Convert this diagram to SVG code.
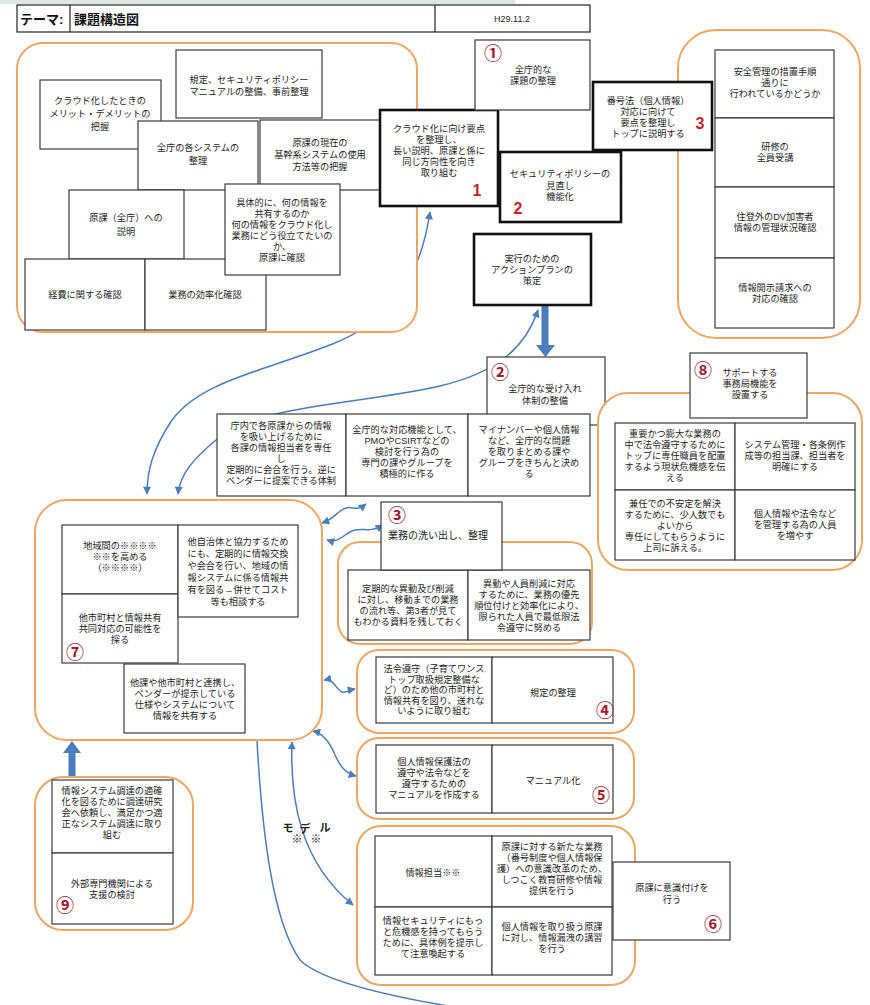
<svg xmlns="http://www.w3.org/2000/svg" width="870" height="1005" viewBox="0 0 870 1005">
  <style>
    .grp { fill: #fff; stroke: #eea664; stroke-width: 2; }
    .bx { fill: #fff; stroke: #3a3a3a; stroke-width: 1.2; }
    .bk { fill: #fff; stroke: #111; stroke-width: 2.6; }
    .t { font-family: "Liberation Sans", "Noto Sans CJK JP", sans-serif; font-size: 9.2px; fill: #1c1c1c; text-anchor: middle; }
    .tl { font-family: "Liberation Sans", "Noto Sans CJK JP", sans-serif; font-size: 10px; fill: #1c1c1c; }
    .num { font-family: "Liberation Sans", "Noto Sans CJK JP", sans-serif; font-size: 18px; font-weight: bold; fill: #9e1b2e; text-anchor: middle; }
    .red { font-family: "Liberation Sans", Arial, sans-serif; font-size: 16px; font-weight: bold; fill: #c41f2f; text-anchor: middle; }
    .hd { font-family: "Liberation Sans", "Noto Sans CJK JP", sans-serif; font-size: 13px; font-weight: bold; fill: #111; }
    .cn { fill: none; stroke: #4a7dbb; stroke-width: 1.5; }
    .fat { fill: #4a7dbb; stroke: none; }
    .md { font-family: "Liberation Sans", "Noto Sans CJK JP", sans-serif; font-size: 11px; font-weight: bold; fill: #222; text-anchor: middle; }
  </style>
  <defs>
    <marker id="ah" viewBox="0 0 10 10" refX="9" refY="5" markerWidth="9" markerHeight="8" markerUnits="userSpaceOnUse" orient="auto-start-reverse">
      <path d="M0,0 L10,5 L0,10 z" fill="#4a7dbb"/>
    </marker>
  </defs>

  <rect x="0" y="0" width="870" height="1005" fill="#fff"/>
  <rect x="0" y="0" width="515" height="4" fill="#dfe5e2"/>

  <!-- title bar -->
  <g id="header">
    <rect x="17" y="5" width="573" height="27" fill="#fff" stroke="#222" stroke-width="1.2"/>
    <line x1="70" y1="5" x2="70" y2="32" stroke="#222" stroke-width="1.2"/>
    <line x1="435" y1="5" x2="435" y2="32" stroke="#222" stroke-width="1.2"/>
    <text class="hd" x="20" y="24">テーマ:</text>
    <text class="hd" x="74" y="24">課題構造図</text>
    <text x="512" y="22" font-family="Liberation Sans, Arial, sans-serif" font-size="9" fill="#222" text-anchor="middle">H29.11.2</text>
  </g>

  <!-- connectors -->
  <g id="connectors">
    <path class="cn" d="M430,212 C420,280 390,322 330,345 C260,372 200,382 172,420 C152,450 147,472 147,494" marker-start="url(#ah)" marker-end="url(#ah)"/>
    <path class="cn" d="M538,310 C525,348 498,372 440,386 C350,406 262,404 216,440 C192,460 180,475 178,494" marker-start="url(#ah)" marker-end="url(#ah)"/>
    <path class="cn" d="M322,523 C336,518 338,510 346,508 C354,506 356,512 366,504" marker-start="url(#ah)" marker-end="url(#ah)"/>
    <path class="cn" d="M327,540 C340,544 345,532 355,530 C365,528 370,533 383,525" marker-start="url(#ah)" marker-end="url(#ah)"/>
    <path class="cn" d="M324,680 C334,678 336,690 342,692 C346,693 350,690 355,689" marker-start="url(#ah)" marker-end="url(#ah)"/>
    <path class="cn" d="M313,731 C325,734 331,745 335,755 C340,766 345,773 356,776" marker-start="url(#ah)" marker-end="url(#ah)"/>
    <path class="cn" d="M292,742 C290,800 300,862 353,905" marker-start="url(#ah)" marker-end="url(#ah)"/>
    <path class="cn" d="M257,741 C262,830 272,920 300,960 C320,980 380,995 460,1008"/>
    <!-- heavy arrows -->
    <rect class="fat" x="541.5" y="305" width="7" height="42"/>
    <polygon class="fat" points="536,345 555,345 545.5,357"/>
    <rect class="fat" x="68.5" y="752" width="7" height="25"/>
    <polygon class="fat" points="63,753 81,753 72,741"/>
  </g>

  <!-- upper-left cluster -->
  <g id="cluster-prep">
    <rect class="grp" x="17" y="43" width="400" height="289" rx="26"/>
  </g>
  <g id="n-merit">
    <rect class="bx" x="40" y="80" width="121" height="69"/>
    <text class="t" x="100" y="104">クラウド化したときの<tspan x="100" dy="13">メリット・デメリットの</tspan><tspan x="100" dy="13">把握</tspan></text>
  </g>
  <g id="n-kitei">
    <rect class="bx" x="176" y="50" width="146" height="68"/>
    <text class="t" x="249" y="83">規定、セキュリティポリシー<tspan x="249" dy="11.5">マニュアルの整備、事前整理</tspan></text>
  </g>
  <g id="n-zencho-system">
    <rect class="bx" x="138" y="121" width="120" height="69"/>
    <text class="t" x="198" y="151">全庁の各システムの<tspan x="198" dy="13">整理</tspan></text>
  </g>
  <g id="n-genka-system">
    <rect class="bx" x="260" y="120" width="120" height="70"/>
    <text class="t" x="320" y="146">原課の現在の<tspan x="320" dy="12">基幹系システムの使用</tspan><tspan x="320" dy="12">方法等の把握</tspan></text>
  </g>
  <g id="n-setsumei">
    <rect class="bx" x="69" y="190" width="115" height="69"/>
    <text class="t" x="126" y="221">原課（全庁）への<tspan x="126" dy="14">説明</tspan></text>
  </g>
  <g id="n-keihi">
    <rect class="bx" x="25" y="259" width="120" height="71"/>
    <text class="t" x="85" y="298">経費に関する確認</text>
  </g>
  <g id="n-kouritsu">
    <rect class="bx" x="145" y="259" width="121" height="71"/>
    <text class="t" x="205" y="298">業務の効率化確認</text>
  </g>
  <g id="n-gutai">
    <rect class="bx" x="225" y="184" width="115" height="91"/>
    <text class="t" x="282" y="205.5">具体的に、何の情報を<tspan x="282" dy="11">共有するのか</tspan><tspan x="282" dy="11">何の情報をクラウド化し</tspan><tspan x="282" dy="11">業務にどう役立てたいの</tspan><tspan x="282" dy="11">か、</tspan><tspan x="282" dy="11">原課に確認</tspan></text>
  </g>

  <!-- right-hand checks -->
  <g id="cluster-checks">
    <rect class="grp" x="678" y="30" width="182" height="308" rx="38"/>
    <rect class="bx" x="715" y="50" width="119" height="68"/>
    <text class="t" x="775" y="74.5">安全管理の措置手順<tspan x="775" dy="11">通りに</tspan><tspan x="775" dy="11">行われているかどうか</tspan></text>
    <rect class="bx" x="715" y="118" width="119" height="69"/>
    <text class="t" x="775" y="150">研修の<tspan x="775" dy="11">全員受講</tspan></text>
    <rect class="bx" x="715" y="187" width="119" height="71"/>
    <text class="t" x="775" y="220">住登外のDV加害者<tspan x="775" dy="11">情報の管理状況確認</tspan></text>
    <rect class="bx" x="715" y="258" width="119" height="70"/>
    <text class="t" x="775" y="291">情報開示請求への<tspan x="775" dy="11">対応の確認</tspan></text>
  </g>

  <!-- priority tasks -->
  <g id="n-task1">
    <rect class="bk" x="380" y="110" width="118" height="96"/>
    <text class="t" x="439" y="132">クラウド化に向け要点<tspan x="439" dy="11">を整理し、</tspan><tspan x="439" dy="11">長い説明、原課と係に</tspan><tspan x="439" dy="11">同じ方向性を向き</tspan><tspan x="439" dy="11">取り組む</tspan></text>
    <text class="red" x="477" y="196">1</text>
  </g>
  <g id="n-issue1">
    <rect class="bx" x="475" y="40" width="115" height="70"/>
    <text class="num" x="493" y="60">①</text>
    <text class="t" x="533" y="73">全庁的な<tspan x="533" dy="11">課題の整理</tspan></text>
  </g>
  <g id="n-task2">
    <rect class="bk" x="500" y="152" width="121" height="70"/>
    <text class="t" x="560" y="177">セキュリティポリシーの<tspan x="560" dy="11.5">見直し</tspan><tspan x="560" dy="11.5">機能化</tspan></text>
    <text class="red" x="518" y="214">2</text>
  </g>
  <g id="n-task3">
    <rect class="bk" x="593" y="82" width="119" height="68"/>
    <text class="t" x="648" y="104">番号法（個人情報）<tspan x="648" dy="11">対応に向けて</tspan><tspan x="648" dy="11">要点を整理し</tspan><tspan x="648" dy="11">トップに説明する</tspan></text>
    <text class="red" x="700" y="129">3</text>
  </g>
  <g id="n-actionplan">
    <rect class="bk" x="474" y="234" width="117" height="71"/>
    <text class="t" x="532" y="262">実行のための<tspan x="532" dy="11">アクションプランの</tspan><tspan x="532" dy="11">策定</tspan></text>
  </g>

  <!-- acceptance structure -->
  <g id="n-issue2">
    <rect class="bx" x="487" y="357" width="118" height="68"/>
    <text class="num" x="500" y="379">②</text>
    <text class="t" x="545" y="392">全庁的な受け入れ<tspan x="545" dy="12">体制の整備</tspan></text>
  </g>
  <g id="n-renraku">
    <rect class="bx" x="217" y="414" width="129" height="82"/>
    <text class="t" x="281" y="429">庁内で各原課からの情報<tspan x="281" dy="11">を吸い上げるために</tspan><tspan x="281" dy="11">各課の情報担当者を専任</tspan><tspan x="281" dy="11">し</tspan><tspan x="281" dy="11">定期的に会合を行う。逆に</tspan><tspan x="281" dy="11">ベンダーに提案できる体制</tspan></text>
  </g>
  <g id="n-pmo">
    <rect class="bx" x="346" y="414" width="122" height="82"/>
    <text class="t" x="407" y="433">全庁的な対応機能として、<tspan x="407" dy="11">PMOやCSIRTなどの</tspan><tspan x="407" dy="11">検討を行う為の</tspan><tspan x="407" dy="11">専門の課やグループを</tspan><tspan x="407" dy="11">積極的に作る</tspan></text>
  </g>
  <g id="n-mynumber">
    <rect class="bx" x="468" y="414" width="122" height="82"/>
    <text class="t" x="529" y="433">マイナンバーや個人情報<tspan x="529" dy="11">など、全庁的な問題</tspan><tspan x="529" dy="11">を取りまとめる課や</tspan><tspan x="529" dy="11">グループをきちんと決め</tspan><tspan x="529" dy="11">る</tspan></text>
  </g>

  <!-- secretariat -->
  <g id="cluster-support">
    <rect class="grp" x="598" y="393" width="264" height="177" rx="30"/>
    <rect class="bx" x="615" y="423" width="120" height="67"/>
    <text class="t" x="675" y="437">重要かつ膨大な業務の<tspan x="675" dy="11">中で法令遵守するために</tspan><tspan x="675" dy="11">トップに専任職員を配置</tspan><tspan x="675" dy="11">するよう現状危機感を伝</tspan><tspan x="675" dy="11">える</tspan></text>
    <rect class="bx" x="735" y="423" width="120" height="67"/>
    <text class="t" x="795" y="448">システム管理・各条例作<tspan x="795" dy="11">成等の担当課、担当者を</tspan><tspan x="795" dy="11">明確にする</tspan></text>
    <rect class="bx" x="615" y="490" width="120" height="70"/>
    <text class="t" x="675" y="506.5">兼任での不安定を解決<tspan x="675" dy="11">するために、少人数でも</tspan><tspan x="675" dy="11">よいから</tspan><tspan x="675" dy="11">専任にしてもらうように</tspan><tspan x="675" dy="11">上司に訴える。</tspan></text>
    <rect class="bx" x="735" y="490" width="120" height="70"/>
    <text class="t" x="795" y="517">個人情報や法令など<tspan x="795" dy="11">を管理する為の人員</tspan><tspan x="795" dy="11">を増やす</tspan></text>
  </g>
  <g id="n-issue8">
    <rect class="bx" x="690" y="353" width="117" height="65"/>
    <text class="num" x="703" y="377">⑧</text>
    <text class="t" x="750" y="376">サポートする<tspan x="750" dy="11">事務局機能を</tspan><tspan x="750" dy="11">設置する</tspan></text>
  </g>

  <!-- regional cooperation -->
  <g id="cluster-regional">
    <rect class="grp" x="35" y="500" width="287" height="240" rx="32"/>
  </g>
  <g id="n-chiiki">
    <rect class="bx" x="62" y="525" width="116" height="69"/>
    <text class="t" x="120" y="548.5">地域間の※※※※<tspan x="120" dy="11">※※を高める</tspan><tspan x="120" dy="11">（※※※※）</tspan></text>
  </g>
  <g id="n-issue7">
    <rect class="bx" x="62" y="594" width="116" height="69"/>
    <text class="t" x="120" y="620.5">他市町村と情報共有<tspan x="120" dy="11">共同対応の可能性を</tspan><tspan x="120" dy="11">探る</tspan></text>
    <text class="num" x="75" y="659">⑦</text>
  </g>
  <g id="n-jichitai">
    <rect class="bx" x="178" y="525" width="120" height="92"/>
    <text class="t" x="238" y="544.5">他自治体と協力するため<tspan x="238" dy="12">にも、定期的に情報交換</tspan><tspan x="238" dy="12">や会合を行い、地域の情</tspan><tspan x="238" dy="12">報システムに係る情報共</tspan><tspan x="238" dy="12">有を図る→併せてコスト</tspan><tspan x="238" dy="12">等も相談する</tspan></text>
  </g>
  <g id="n-vendor">
    <rect class="bx" x="124" y="664" width="121" height="69"/>
    <text class="t" x="185" y="685.5">他課や他市町村と連携し、<tspan x="185" dy="11">ベンダーが提示している</tspan><tspan x="185" dy="11">仕様やシステムについて</tspan><tspan x="185" dy="11">情報を共有する</tspan></text>
  </g>

  <!-- business review -->
  <g id="cluster-review">
    <rect class="grp" x="338" y="542" width="254" height="102" rx="22"/>
    <rect class="bx" x="348" y="570" width="120" height="70"/>
    <text class="t" x="408" y="592">定期的な異動及び削減<tspan x="408" dy="11">に対し、移動までの業務</tspan><tspan x="408" dy="11">の流れ等、第3者が見て</tspan><tspan x="408" dy="11">もわかる資料を残しておく</tspan></text>
    <rect class="bx" x="468" y="570" width="122" height="70"/>
    <text class="t" x="529" y="586.5">異動や人員削減に対応<tspan x="529" dy="11">するために、業務の優先</tspan><tspan x="529" dy="11">順位付けと効率化により、</tspan><tspan x="529" dy="11">限られた人員で最低限法</tspan><tspan x="529" dy="11">令遵守に努める</tspan></text>
  </g>
  <g id="n-issue3">
    <rect class="bx" x="381" y="502" width="121" height="68"/>
    <text class="num" x="397" y="522" font-size="17">③</text>
    <text class="tl" x="388" y="539">業務の洗い出し、整理</text>
  </g>

  <!-- rule maintenance -->
  <g id="cluster-rules">
    <rect class="grp" x="357" y="650" width="277" height="83" rx="22"/>
    <rect class="bx" x="376" y="657" width="116" height="66"/>
    <text class="t" x="434" y="672">法令遵守（子育てワンス<tspan x="434" dy="10.5">トップ取扱規定整備な</tspan><tspan x="434" dy="10.5">ど）のため他の市町村と</tspan><tspan x="434" dy="10.5">情報共有を図り、送れな</tspan><tspan x="434" dy="10.5">いように取り組む</tspan></text>
    <rect class="bx" x="492" y="657" width="121" height="66"/>
    <text class="t" x="553" y="695.5">規定の整理</text>
    <text class="num" x="605" y="717">④</text>
  </g>

  <!-- manuals -->
  <g id="cluster-manual">
    <rect class="grp" x="357" y="738" width="277" height="81" rx="22"/>
    <rect class="bx" x="376" y="745" width="116" height="68"/>
    <text class="t" x="434" y="765">個人情報保護法の<tspan x="434" dy="11">遵守や法令などを</tspan><tspan x="434" dy="11">遵守するための</tspan><tspan x="434" dy="11">マニュアルを作成する</tspan></text>
    <rect class="bx" x="492" y="745" width="121" height="68"/>
    <text class="t" x="553" y="783.5">マニュアル化</text>
    <text class="num" x="601" y="802">⑤</text>
  </g>

  <!-- awareness -->
  <g id="cluster-awareness">
    <rect class="grp" x="357" y="826" width="278" height="159" rx="24"/>
    <rect class="bx" x="375" y="836" width="117" height="71"/>
    <text class="t" x="433" y="875.5">情報担当※※</text>
    <rect class="bx" x="492" y="836" width="120" height="71"/>
    <text class="t" x="552" y="850">原課に対する新たな業務<tspan x="552" dy="11">（番号制度や個人情報保</tspan><tspan x="552" dy="11">護）への意識改革のため、</tspan><tspan x="552" dy="11">しつこく教育研修や情報</tspan><tspan x="552" dy="11">提供を行う</tspan></text>
    <rect class="bx" x="375" y="907" width="117" height="68"/>
    <text class="t" x="433" y="924">情報セキュリティにもっ<tspan x="433" dy="11">と危機感を持ってもらう</tspan><tspan x="433" dy="11">ために、具体例を提示し</tspan><tspan x="433" dy="11">て注意喚起する</tspan></text>
    <rect class="bx" x="492" y="907" width="120" height="68"/>
    <text class="t" x="552" y="930">個人情報を取り扱う原課<tspan x="552" dy="11">に対し、情報漏洩の講習</tspan><tspan x="552" dy="11">を行う</tspan></text>
  </g>
  <g id="n-issue6">
    <rect class="bx" x="613" y="862" width="117" height="78"/>
    <text class="t" x="672" y="891">原課に意識付けを<tspan x="672" dy="12">行う</tspan></text>
    <text class="num" x="713" y="931">⑥</text>
  </g>

  <!-- outside support -->
  <g id="cluster-external">
    <rect class="grp" x="35" y="777" width="158" height="153" rx="28"/>
    <rect class="bx" x="52" y="780" width="121" height="73"/>
    <text class="t" x="112" y="793.5">情報システム調達の適確<tspan x="112" dy="11">化を図るために調達研究</tspan><tspan x="112" dy="11">会へ依頼し、満足かつ適</tspan><tspan x="112" dy="11">正なシステム調達に取り</tspan><tspan x="112" dy="11">組む</tspan></text>
    <rect class="bx" x="52" y="853" width="121" height="71"/>
    <text class="t" x="112" y="886.5">外部専門機関による<tspan x="112" dy="11">支援の検討</tspan></text>
    <text class="num" x="65" y="912">⑨</text>
  </g>

  <!-- floating label -->
  <g id="label-model">
    <text class="md" x="288" y="832">モ</text>
    <text class="md" x="305" y="833">デ</text>
    <text class="md" x="325" y="832">ル</text>
    <text class="md" x="297" y="843" font-size="10">※</text>
    <text class="md" x="316" y="843" font-size="10">※</text>
  </g>
</svg>
